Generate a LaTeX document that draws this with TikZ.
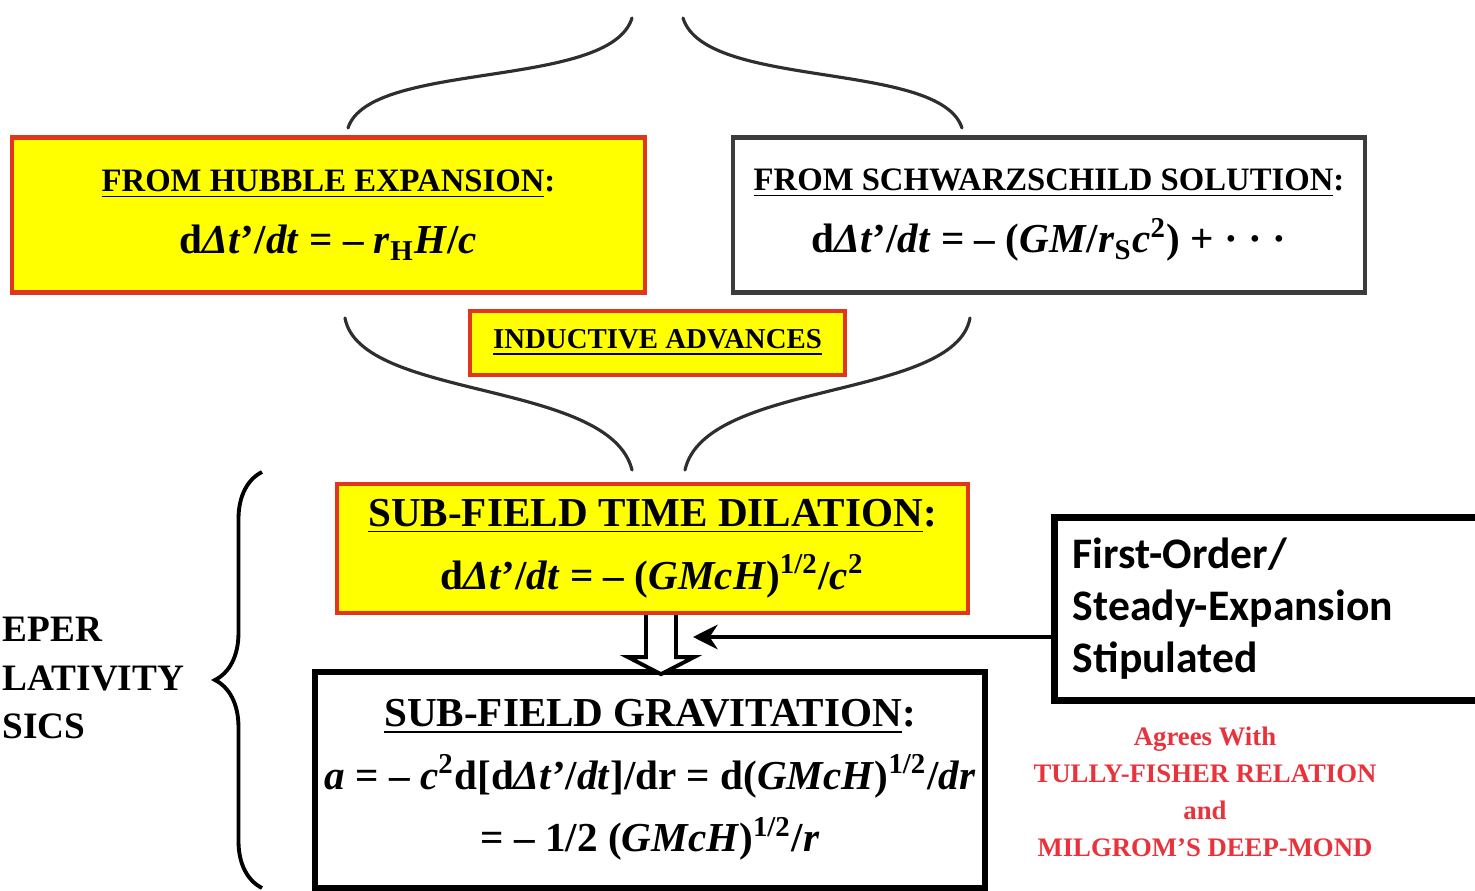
\documentclass[tikz,border=0pt]{standalone}
\usepackage{fontspec}
\setmainfont{Liberation Serif}
\newfontfamily\calloutfont{Carlito}
\definecolor{boxyellow}{HTML}{FFFF00}
\definecolor{boxred}{HTML}{E2361C}
\definecolor{boxgray}{HTML}{3C3C3C}
\definecolor{agreered}{HTML}{E8323C}
\definecolor{curvegray}{HTML}{2E2E2E}
\usetikzlibrary{%
    arrows.meta,
    decorations.pathreplacing,
    positioning,
}
\newcommand{\dtprime}{d\textit{Δt}’/\textit{dt}}
\newcommand{\smalltitle}{\fontsize{9.3pt}{19pt}\selectfont}
\tikzset{%
    base/.style = {
        text centered,
        align=center,
        inner sep=0pt,
        font=\bfseries\fontsize{11.7pt}{17.8pt}\selectfont,
    },
    yellowbox/.style = {
        base,
        rectangle,
        fill=boxyellow,
        draw=boxred,
        line width=1.2pt,
    },
    whitebox/.style = {
        base,
        rectangle,
        fill=white,
        draw=boxgray,
        line width=1.2pt,
    },
    blackbox/.style = {
        base,
        rectangle,
        fill=white,
        draw=black,
        line width=1.6pt,
    },
    callout/.style = {
        rectangle,
        draw=black,
        fill=white,
        line width=2pt,
        align=left,
        inner xsep=0.18cm,
        font=\calloutfont\bfseries\fontsize{12.4pt}{14.8pt}\selectfont,
    },
    note/.style = {
        align=center,
        inner sep=0pt,
        text=agreered,
        font=\bfseries\fontsize{7.6pt}{10.5pt}\selectfont,
    },
    sidetext/.style = {
        align=left,
        inner sep=0pt,
        font=\bfseries\fontsize{10.6pt}{13.7pt}\selectfont,
    },
    curve/.style = {
        draw=curvegray,
        line width=0.9pt,
        line cap=round,
    },
    pointer/.style = {
        draw=black,
        line width=1.2pt,
        -{Stealth[length=7pt,width=7pt]},
    },
    blockarrow/.style = {
        draw=black,
        fill=white,
        line width=1.1pt,
        line join=miter,
    },
    bracket/.style = {
        draw=black,
        line width=1.1pt,
        decorate,
        decoration={brace, amplitude=0.47cm},
    },
}

\begin{document}
\begin{tikzpicture}[x=0.01cm, y=-0.01cm]
    \useasboundingbox (0,0) rectangle (1475,891);
    \clip (0,0) rectangle (1475,891);

    \node [yellowbox, minimum width=6.33cm, minimum height=1.55cm] (hubble) at (328.5,215)
        {{\smalltitle\underline{FROM HUBBLE EXPANSION}:}\\
         \dtprime{} = – \textit{r}\textsubscript{H}\textit{H}/\textit{c}};
    \node [whitebox, minimum width=6.32cm, minimum height=1.55cm] (schwarz) at (1049,215)
        {{\smalltitle\underline{FROM SCHWARZSCHILD SOLUTION}:}\\
         \dtprime{} = – (\textit{GM}/\textit{r}\textsubscript{S}\textit{c}\textsuperscript{2}) + · · ·};
    \node [yellowbox, minimum width=3.75cm, minimum height=0.64cm,
           font=\bfseries\fontsize{8.2pt}{10pt}\selectfont] (inductive) at (657.5,343)
        {\underline{INDUCTIVE ADVANCES}};
    \node [yellowbox, minimum width=6.31cm, minimum height=1.29cm] (dilation) at (652.5,548.5)
        {\underline{SUB-FIELD TIME DILATION}:\\
         \dtprime{} = – (\textit{GMcH})\textsuperscript{1/2}/\textit{c}\textsuperscript{2}};
    \node [blackbox, minimum width=6.70cm, minimum height=2.16cm] (gravity) at (650,780)
        {\underline{SUB-FIELD GRAVITATION}:\\
         \textit{a} = – \textit{c}\textsuperscript{2}d[\dtprime]/dr = d(\textit{GMcH})\textsuperscript{1/2}/\textit{dr}\\
         = – 1/2 (\textit{GMcH})\textsuperscript{1/2}/\textit{r}};
    \node [callout, text width=4.0cm, minimum height=1.82cm] (callout) at (1273,609)
        {First-Order/\\Steady-Expansion\\Stipulated};
    \node [note] (agrees) at (1205,792)
        {Agrees With\\TULLY-FISHER RELATION\\and\\MILGROM’S DEEP-MOND};
    \node [sidetext, anchor=west] (deeper) at (2,678)
        {EPER\\LATIVITY\\SICS};

    \coordinate (hubin) at (632,18);
    \coordinate (hubout) at (348,128);
    \coordinate (schin) at (683,18);
    \coordinate (schout) at (962,128);
    \coordinate (hubdown) at (345,318);
    \coordinate (schdown) at (970,318);
    \coordinate (dilleft) at (632,470);
    \coordinate (dilright) at (685,470);
    \coordinate (down) at ([xshift=0.085cm]dilation.south);
    \coordinate (stip) at (693,637);

    \draw [curve] (hubin) .. controls (610,90) and (370,60) .. (hubout);
    \draw [curve] (schin) .. controls (705,90) and (940,60) .. (schout);
    \draw [curve] (hubdown) .. controls (360,400) and (610,380) .. (dilleft);
    \draw [curve] (schdown) .. controls (955,400) and (705,380) .. (dilright);

    \draw [blockarrow] (down) ++(-15,0) -- ++(0,42) -- ++(-18,0) -- ++(33,17)
        -- ++(33,-17) -- ++(-18,0) -- ++(0,-42);
    \draw [pointer] (callout.west |- stip) -- (stip);
    \draw [bracket] (262,888) -- (262,472);

\end{tikzpicture}
\end{document}
